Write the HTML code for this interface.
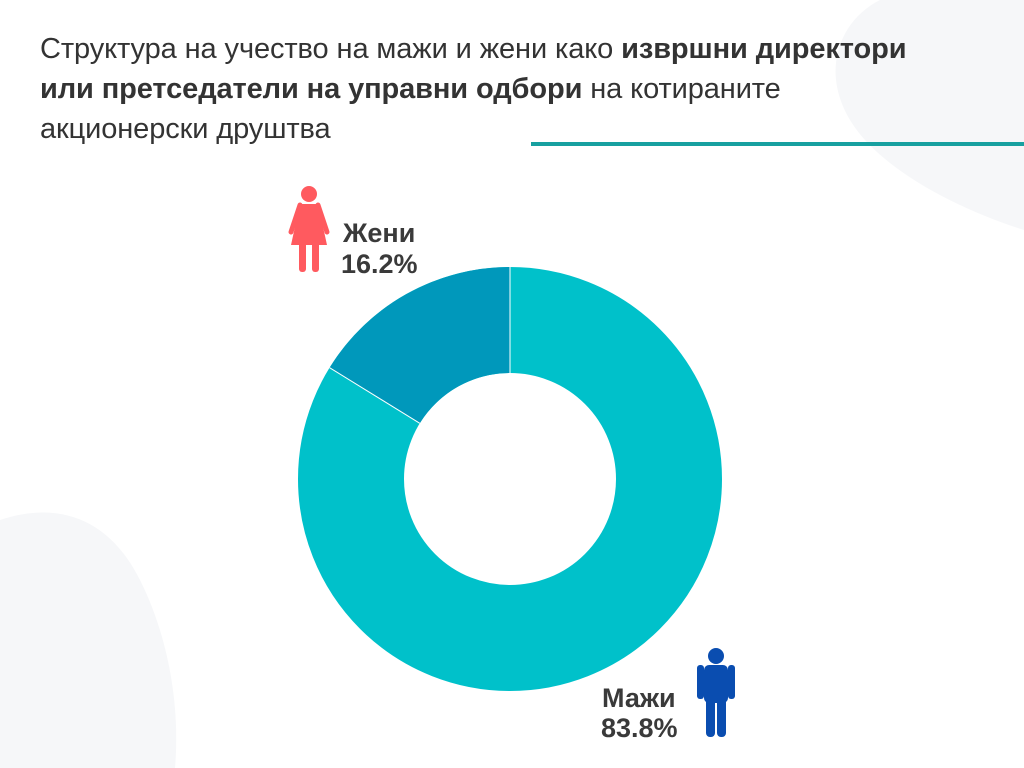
<!DOCTYPE html>
<html><head><meta charset="utf-8"><style>
html,body{margin:0;padding:0;background:#fff;width:1024px;height:768px;overflow:hidden}
svg{display:block}
</style></head><body>
<svg width="1024" height="768" viewBox="0 0 1024 768" xmlns="http://www.w3.org/2000/svg">
<path d="M880,0 L1024,0 L1024,230 C960,210 880,170 850,120 C820,70 840,20 880,0Z" fill="#f6f7f9"/>
<path d="M0,520 C60,500 110,520 140,580 C170,640 180,710 175,768 L0,768Z" fill="#f6f7f9"/>
<g font-family="Liberation Sans, sans-serif" font-size="29" fill="#333">
<text x="40" y="58" letter-spacing="-0.1">Структура на учество на мажи и жени како <tspan font-weight="bold">извршни директори</tspan></text>
<text x="40" y="98" letter-spacing="-0.1"><tspan font-weight="bold">или претседатели на управни одбори</tspan> на котираните</text>
<text x="40" y="138" letter-spacing="-0.1">акционерски друштва</text>
</g>
<rect x="531" y="142" width="493" height="4" fill="#17a0a0"/>
<g transform="translate(510,479)">
<circle r="159" fill="none" stroke="#00c1ca" stroke-width="106"/>
<path d="M0,-212 A212,212 0 0 0 -180.4,-111.3 L-90.2,-55.7 A106,106 0 0 1 0,-106Z" fill="#0098bb"/>
<line x1="0" y1="-212" x2="0" y2="-106" stroke="#fff" stroke-width="1"/>
<line x1="-180.4" y1="-111.3" x2="-90.2" y2="-55.7" stroke="#fff" stroke-width="1"/>
</g>
<g fill="#ff5a5f">
<circle cx="309" cy="194" r="8"/>
<path d="M300,204 L318,204 L327,245 L291,245Z"/>
<rect x="299" y="240" width="7" height="32" rx="3"/>
<rect x="312" y="240" width="7" height="32" rx="3"/>
<path d="M300,205 L291,232" stroke="#ff5a5f" stroke-width="5" stroke-linecap="round"/>
<path d="M318,205 L327,232" stroke="#ff5a5f" stroke-width="5" stroke-linecap="round"/>
</g>
<g fill="#0a4db0">
<circle cx="716" cy="656" r="8"/>
<rect x="704" y="665" width="24" height="38" rx="5"/>
<rect x="697" y="665" width="7" height="34" rx="3"/>
<rect x="728" y="665" width="7" height="34" rx="3"/>
<rect x="706" y="695" width="9" height="42" rx="4"/>
<rect x="717" y="695" width="9" height="42" rx="4"/>
</g>
<g font-family="Liberation Sans, sans-serif" font-size="27" font-weight="bold" fill="#3a3a3a">
<text x="343" y="242">Жени</text>
<text x="341" y="273">16.2%</text>
<text x="602" y="707">Мажи</text>
<text x="601" y="737">83.8%</text>
</g>
</svg>
</body></html>
